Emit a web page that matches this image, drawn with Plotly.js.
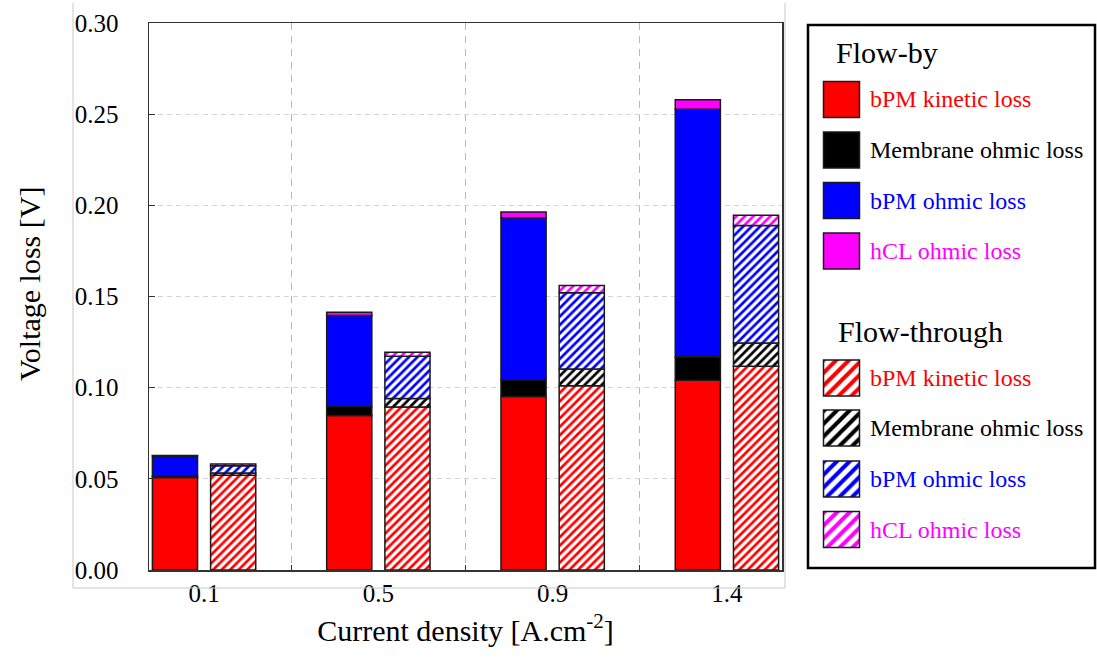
<!DOCTYPE html>
<html>
<head>
<meta charset="utf-8">
<script src="https://cdn.plot.ly/plotly-3.0.1.min.js"></script>
<style>html,body{margin:0;padding:0;background:#fff;}</style>
</head>
<body>
<div id="chart" style="width:1097px;height:659px;"></div>
<script>
// ---- data ----
const categories = ['0.1', '0.5', '0.9', '1.4'];
const seriesNames = ['bPM kinetic loss', 'Membrane ohmic loss', 'bPM ohmic loss', 'hCL ohmic loss'];
const seriesColors = ['#ff0000', '#000000', '#0000ff', '#ff00ff'];
const groupTitles = ['Flow-by', 'Flow-through'];

const flowByKinetic  = [0.0507, 0.0848, 0.0952, 0.1040];
const flowByMembrane = [0.0008, 0.0049, 0.0092, 0.0130];
const flowByBpmOhmic = [0.0110, 0.0499, 0.0888, 0.1357];
const flowByHcl      = [0.0003, 0.0018, 0.0031, 0.0052];

const flowThroughKinetic  = [0.0520, 0.0894, 0.1011, 0.1117];
const flowThroughMembrane = [0.0012, 0.0047, 0.0092, 0.0128];
const flowThroughBpmOhmic = [0.0040, 0.0231, 0.0417, 0.0645];
const flowThroughHcl      = [0.0010, 0.0022, 0.0040, 0.0055];

const yTickVals = [0, 0.05, 0.10, 0.15, 0.20, 0.25, 0.30];
const xTitle = 'Current density [A.cm<sup>-2</sup>]';
const yTitle = 'Voltage loss [V]';

// ---- layout helpers ----
const W = 1097, H = 659;
const px = x => x / W;
const py = y => 1 - y / H;
const FONT = 'Liberation Serif, Times New Roman, serif';

const groups = [
  {title: groupTitles[0], series: [flowByKinetic, flowByMembrane, flowByBpmOhmic, flowByHcl], offset: -0.167, hatched: false},
  {title: groupTitles[1], series: [flowThroughKinetic, flowThroughMembrane, flowThroughBpmOhmic, flowThroughHcl], offset: 0.167, hatched: true}
];

function markerFor(color, hatched, size) {
  const m = {color: color, line: {color: '#1a1a1a', width: 1.5}};
  if (hatched) {
    m.color = '#ffffff';
    m.pattern = {shape: '/', fgcolor: color, bgcolor: '#ffffff', size: size, solidity: 0.45, fillmode: 'replace'};
  }
  return m;
}

const traces = [];
groups.forEach(g => {
  const base = categories.map(() => 0);
  g.series.forEach((vals, k) => {
    traces.push({
      type: 'bar',
      name: g.title + ' - ' + seriesNames[k],
      x: categories.map((c, i) => i + g.offset),
      y: vals,
      base: base.slice(),
      width: 0.259,
      marker: markerFor(seriesColors[k], g.hatched, 6),
      showlegend: false,
      hoverinfo: 'y',
      xaxis: 'x', yaxis: 'y'
    });
    vals.forEach((v, i) => base[i] += v);
  });
});

// ---- custom legend (swatches drawn as bars on a pixel-unit overlay axis) ----
const annotations = [];
const legendLayout = [
  {titleY: 52, titleX: 834, itemY: [99.5, 150, 200.5, 251]},
  {titleY: 331, titleX: 836, itemY: [378, 428, 479, 529.5]}
];
groups.forEach((g, gi) => {
  const L = legendLayout[gi];
  annotations.push({xref: 'paper', yref: 'paper', x: px(L.titleX), y: py(L.titleY), xanchor: 'left', yanchor: 'middle',
    text: g.title, showarrow: false, font: {family: FONT, size: 30, color: '#000'}});
  seriesNames.forEach((n, k) => {
    traces.push({
      type: 'bar', x: [841.5], y: [36], base: [L.itemY[k] - 18], width: 36,
      marker: markerFor(seriesColors[k], g.hatched, 9),
      xaxis: 'x2', yaxis: 'y2', showlegend: false, hoverinfo: 'skip'
    });
    annotations.push({xref: 'paper', yref: 'paper', x: px(868), y: py(L.itemY[k]), xanchor: 'left', yanchor: 'middle',
      text: n, showarrow: false, font: {family: FONT, size: 24, color: seriesColors[k]}});
  });
});

// y axis title (placed as in the reference, slightly above the plot centre)
annotations.push({xref: 'paper', yref: 'paper', x: px(29), y: py(284), xanchor: 'center', yanchor: 'middle',
  text: yTitle, textangle: -90, showarrow: false, font: {family: FONT, size: 30, color: '#000'}});

const shapes = [
  // legend frame
  {type: 'rect', xref: 'paper', yref: 'paper', x0: px(808), x1: px(1095), y0: py(568), y1: py(25),
   line: {color: '#000', width: 2.5}, fillcolor: 'rgba(0,0,0,0)', layer: 'above'},
  // faint outer chart-area frame
  {type: 'line', xref: 'paper', yref: 'paper', x0: px(73), x1: px(73), y0: py(3), y1: py(588), line: {color: '#c8c8c8', width: 1}},
  {type: 'line', xref: 'paper', yref: 'paper', x0: px(73), x1: px(785), y0: py(588), y1: py(588), line: {color: '#c8c8c8', width: 1}},
  {type: 'line', xref: 'paper', yref: 'paper', x0: px(785), x1: px(785), y0: py(3), y1: py(588), line: {color: '#c8c8c8', width: 1}}
];

const layout = {
  width: W, height: H,
  margin: {l: 0, r: 0, t: 0, b: 0},
  paper_bgcolor: '#ffffff',
  plot_bgcolor: 'rgba(0,0,0,0)',
  barmode: 'overlay',
  showlegend: false,
  font: {family: FONT, color: '#000'},
  xaxis: {
    domain: [px(149), px(782)],
    range: [-0.316, 3.316],
    tickvals: categories.map((c, i) => i),
    ticktext: categories,
    ticks: '', showgrid: false, zeroline: false,
    showline: true, mirror: true, linecolor: '#333', linewidth: 1.5,
    tickfont: {family: FONT, size: 25, color: '#000'},
    ticklabelstandoff: 0,
    minor: {tickvals: [0.5, 1.5, 2.5], showgrid: true, gridcolor: '#b8b8b8', griddash: '7px,6px', gridwidth: 1,
            ticks: 'inside', ticklen: 5, tickcolor: '#333'},
    title: {text: xTitle, font: {family: FONT, size: 30, color: '#000'}, standoff: 14},
    fixedrange: true
  },
  yaxis: {
    domain: [py(570), py(23)],
    range: [0, 0.30],
    tickvals: yTickVals,
    tickformat: '.2f',
    ticks: 'inside', ticklen: 6, tickcolor: '#333',
    showgrid: true, gridcolor: '#d4d4d4', griddash: '5px,4px', gridwidth: 1,
    zeroline: false,
    showline: true, mirror: true, linecolor: '#333', linewidth: 1.5,
    tickfont: {family: FONT, size: 25, color: '#000'},
    ticklabelstandoff: 24,
    fixedrange: true
  },
  xaxis2: {domain: [0, 1], range: [0, W], visible: false, fixedrange: true, anchor: 'y2'},
  yaxis2: {domain: [0, 1], range: [H, 0], visible: false, fixedrange: true, anchor: 'x2'},
  shapes: shapes,
  annotations: annotations
};

Plotly.newPlot('chart', traces, layout, {displayModeBar: false, staticPlot: true});
</script>
</body>
</html>
